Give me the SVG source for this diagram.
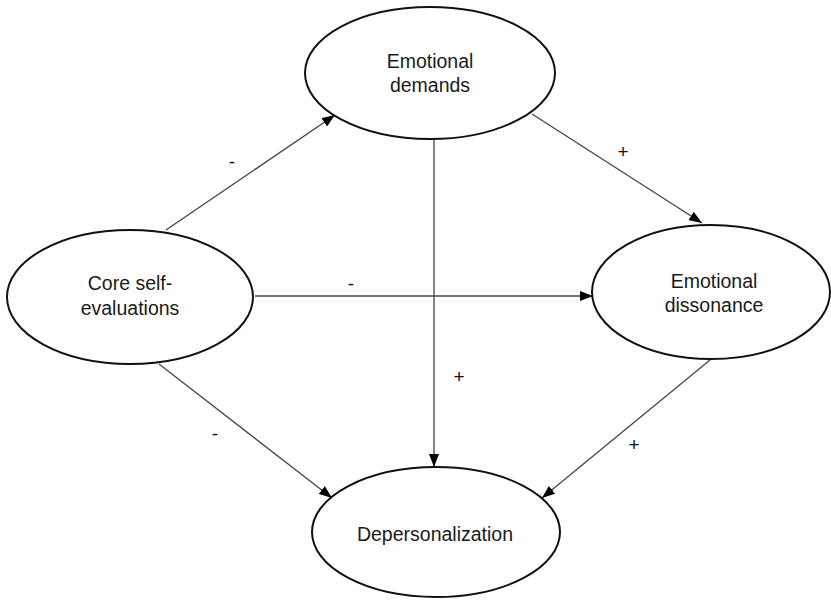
<svg xmlns="http://www.w3.org/2000/svg" width="831" height="601" viewBox="0 0 831 601">
<style>
.node ellipse{fill:#fff;stroke:#111;stroke-width:2}
.node text{font-family:"Liberation Sans",Arial,sans-serif;font-size:19.5px;fill:#1a1a1a;text-anchor:middle}
.conn line{stroke:#444;stroke-width:1.3;marker-end:url(#arr)}
.lbl{font-family:"Liberation Sans",Arial,sans-serif;font-size:19px;fill:#111;text-anchor:middle}
</style>
<defs>
<marker id="arr" markerUnits="userSpaceOnUse" markerWidth="14" markerHeight="10" refX="13" refY="5" orient="auto">
<path d="M0,0 L13,5 L0,10 Z" fill="#000"/>
</marker>
</defs>
<rect width="831" height="601" fill="#fff"/>
<g id="connectors" class="conn">
<line x1="166" y1="230" x2="335" y2="115"/>
<line x1="532" y1="114" x2="702" y2="223"/>
<line x1="434" y1="139" x2="434" y2="467"/>
<line x1="255" y1="296" x2="593" y2="296"/>
<line x1="159" y1="364" x2="332" y2="498"/>
<line x1="710" y1="360" x2="542" y2="498"/>
</g>
<g id="labels">
<text class="lbl" x="232" y="168">-</text>
<text class="lbl" x="623" y="158">+</text>
<text class="lbl" x="351" y="290">-</text>
<text class="lbl" x="459" y="383">+</text>
<text class="lbl" x="215" y="440">-</text>
<text class="lbl" x="634" y="451">+</text>
</g>
<g id="emotional-demands" class="node">
<ellipse cx="430" cy="73" rx="125" ry="66"/>
<text x="430" y="68">Emotional</text>
<text x="430" y="92">demands</text>
</g>
<g id="core-self-evaluations" class="node">
<ellipse cx="130" cy="297" rx="123" ry="67"/>
<text x="130" y="290">Core self-</text>
<text x="130" y="315">evaluations</text>
</g>
<g id="emotional-dissonance" class="node">
<ellipse cx="711" cy="292" rx="119" ry="67"/>
<text x="714" y="288">Emotional</text>
<text x="714" y="312">dissonance</text>
</g>
<g id="depersonalization" class="node">
<ellipse cx="436" cy="532" rx="124" ry="65"/>
<text x="435" y="541">Depersonalization</text>
</g>
</svg>
